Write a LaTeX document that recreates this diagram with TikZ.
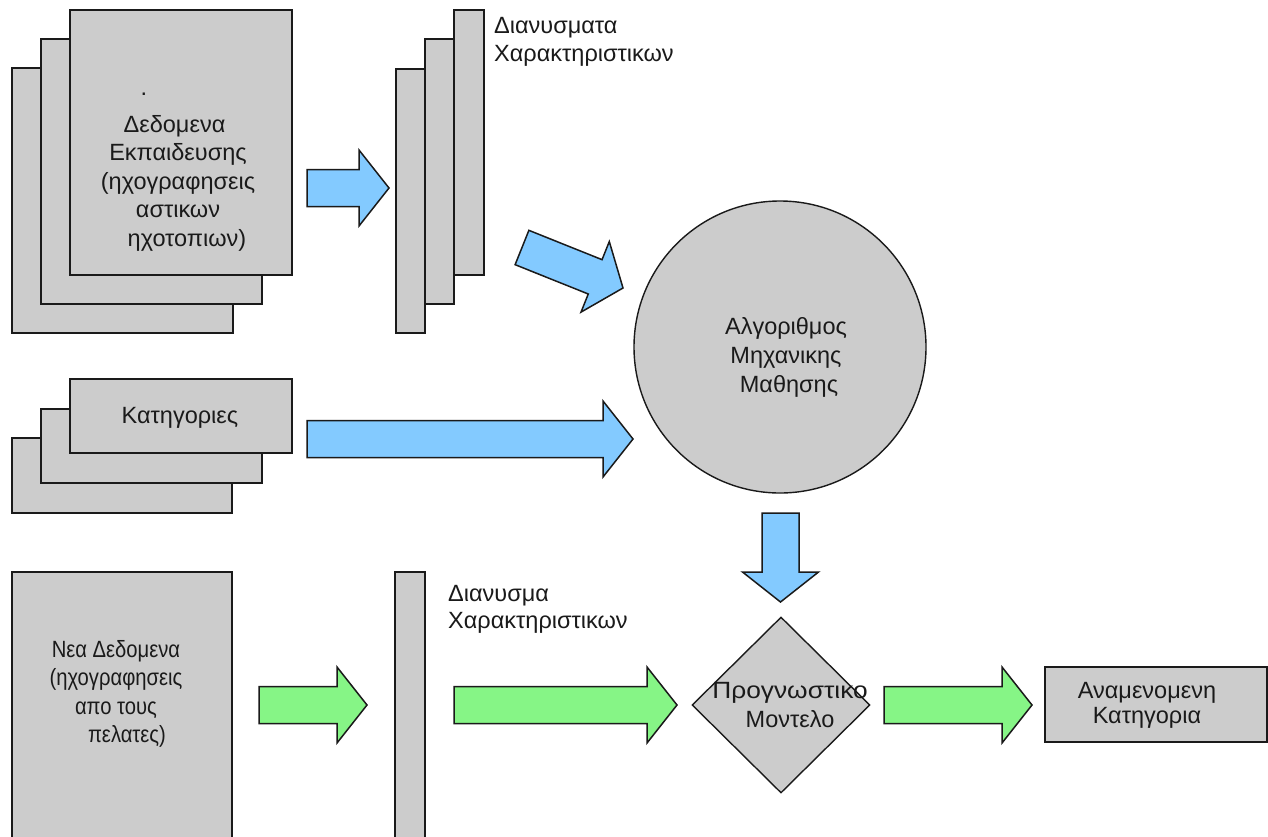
\documentclass[tikz,border=0pt]{standalone}
\usepackage{fontspec}
\setmainfont{Liberation Sans}
\newfontfamily\narrowsans[FakeStretch=0.86]{Liberation Sans}
\usetikzlibrary{calc,shapes.geometric}
\definecolor{boxgray}{HTML}{CCCCCC}
\definecolor{flowblue}{HTML}{83CAFF}
\definecolor{flowgreen}{HTML}{86F586}
\definecolor{inkline}{HTML}{1A1A1A}

\begin{document}
\begin{tikzpicture}[x=1pt,y=-1pt,
  box/.style={draw=inkline, line width=1.8pt, fill=boxgray, inner sep=0pt, outer sep=0pt,
              rectangle, anchor=north west},
  lbl/.style={font=\fontsize{23.5}{28.5}\selectfont, inner sep=0pt, text=inkline},
  blockarrow/.style={draw=inkline, line width=1.5pt, line join=miter,
    to path={
      ($(\tikztostart)!18.5pt!90:(\tikztotarget)$)
      -- ($($(\tikztotarget)!30pt!(\tikztostart)$)!18.5pt!-90:(\tikztostart)$)
      -- ($($(\tikztotarget)!30pt!(\tikztostart)$)!38pt!-90:(\tikztostart)$)
      -- (\tikztotarget)
      -- ($($(\tikztotarget)!30pt!(\tikztostart)$)!38pt!90:(\tikztostart)$)
      -- ($($(\tikztotarget)!30pt!(\tikztostart)$)!18.5pt!90:(\tikztostart)$)
      -- ($(\tikztostart)!18.5pt!-90:(\tikztotarget)$)
      -- cycle}},
  bluearrow/.style={blockarrow, fill=flowblue},
  greenarrow/.style={blockarrow, fill=flowgreen}]

\useasboundingbox (0,0) rectangle (1268,836);
\fill[white] (0,0) rectangle (1268,836);

% training data stack (multi-line labels are anchored at the baseline of their last line)
\node[box, minimum width=221, minimum height=265] (train3) at (12,68) {};
\node[box, minimum width=221, minimum height=265] (train2) at (41,39) {};
\node[box, minimum width=222, minimum height=265] (train1) at (70,10) {};
\node[lbl, anchor=base] (traindot) at (144,95) {.};
\node[lbl, align=center, anchor=base] (traintext) at (178,246)
  {Δεδομενα\hspace*{7pt}\\Εκπαιδευσης\hspace*{5pt}\\(ηχογραφησεις\\αστικων\\\hspace*{18pt}ηχοτοπιων)};

% feature vector stack
\node[box, minimum width=29, minimum height=264] (feat3) at (396,69) {};
\node[box, minimum width=29, minimum height=265] (feat2) at (425,39) {};
\node[box, minimum width=30, minimum height=265] (feat1) at (454,10) {};
\node[lbl, align=left, anchor=base west] (feattext) at (494,61.5)
  {Διανυσματα\\Χαρακτηριστικων};

% category stack
\node[box, minimum width=220, minimum height=75] (cat3) at (12,438) {};
\node[box, minimum width=221, minimum height=74] (cat2) at (41,409) {};
\node[box, minimum width=222, minimum height=74] (cat1) at (70,379) {};
\node[lbl, anchor=base] (cattext) at (180,423) {Κατηγοριες};

% learning algorithm
\node[circle, draw=inkline, line width=1.4pt, fill=boxgray, minimum size=292, inner sep=0pt]
  (algo) at (780,347) {};
\node[lbl, align=center, anchor=base, font=\fontsize{23.5}{29}\selectfont] (algotext) at (786,392)
  {Αλγοριθμος\\Μηχανικης\\\hspace*{6pt}Μαθησης};

% predictive model
\node[diamond, draw=inkline, line width=1.4pt, fill=boxgray, minimum width=178,
      minimum height=176, inner sep=0pt] (model) at (781,705) {};
\node[lbl, align=center, anchor=base, font=\fontsize{23.5}{29.5}\selectfont] (modeltext) at (790,727.5)
  {\scalebox{1.12}[1]{Προγνωστικο}\\Μοντελο};

% expected category
\node[box, minimum width=222, minimum height=75] (result) at (1045,667) {};
\node[lbl, align=center, anchor=base, font=\fontsize{23.5}{25.5}\selectfont] (resulttext) at (1147,723.5)
  {Αναμενομενη\\Κατηγορια};

% new data and its feature vector
\node[box, minimum width=220, minimum height=290] (newdata) at (12,572) {};
\node[lbl, align=center, anchor=base, font=\narrowsans\fontsize{23.5}{28.5}\selectfont] (newtext) at (116,742.5)
  {Νεα Δεδομενα\\(ηχογραφησεις\\απο τους\hspace*{6pt}\\\hspace*{22pt}πελατες)};
\node[box, minimum width=30, minimum height=290] (vec) at (395,572) {};
\node[lbl, align=left, anchor=base west, font=\fontsize{23.5}{27.5}\selectfont] (vectext) at (448,628.5)
  {Διανυσμα\\Χαρακτηριστικων};

% arrow end points
\coordinate (a1s) at (307,188);   \coordinate (a1e) at (389,188);
\coordinate (a2s) at (522,247.5); \coordinate (a2e) at (623,288);
\coordinate (a3s) at (307,439);   \coordinate (a3e) at (633,439);
\coordinate (a4s) at (780.5,513); \coordinate (a4e) at (780.5,602);
\coordinate (g1s) at (259,705);   \coordinate (g1e) at (367,705);
\coordinate (g2s) at (454,705);   \coordinate (g2e) at (677,705);
\coordinate (g3s) at (884,705);   \coordinate (g3e) at (1032,705);

% training flow
\draw[bluearrow] (a1s) to (a1e);
\draw[bluearrow] (a2s) to (a2e);
\draw[bluearrow] (a3s) to (a3e);
\draw[bluearrow] (a4s) to (a4e);

% prediction flow
\draw[greenarrow] (g1s) to (g1e);
\draw[greenarrow] (g2s) to (g2e);
\draw[greenarrow] (g3s) to (g3e);
\end{tikzpicture}
\end{document}
